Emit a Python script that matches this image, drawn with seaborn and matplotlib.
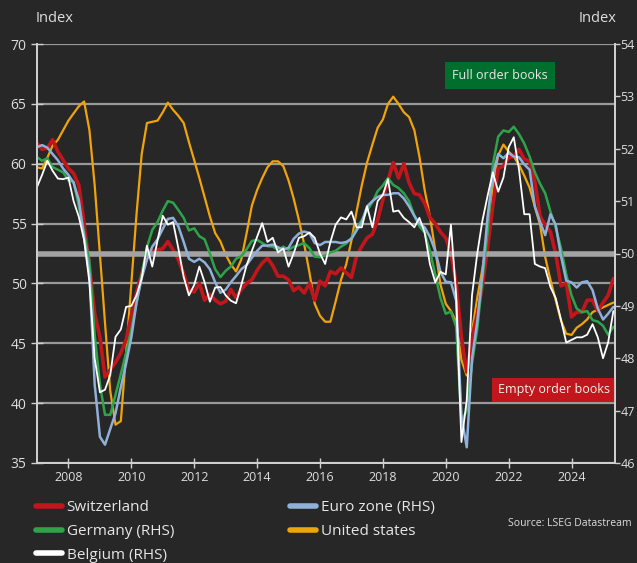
import numpy as np
import pandas as pd
import matplotlib
matplotlib.use("Agg")
import matplotlib.pyplot as plt
import matplotlib.dates as mdates
from matplotlib.lines import Line2D
import seaborn as sns

# ---------------- data (bi-monthly readings, Jan 2007 - May 2025) ----------------
switzerland = [
    61.7, 61.2, 61.3, 62.0, 61.0, 60.3, 59.6, 59.2, 58.2, 55.0, 51.5,
    47.5, 45.5, 42.2, 42.8, 43.4, 44.2, 45.3, 47.3, 49.2, 50.8,
    52.3, 52.7, 52.8, 52.9, 53.5, 52.8, 52.0, 50.8, 49.4, 49.3,
    50.0, 48.6, 49.1, 48.6, 48.3, 48.5, 49.5, 48.8, 49.5, 50.0,
    50.3, 51.1, 51.7, 52.1, 51.5, 50.6, 50.6, 50.3, 49.4, 49.7,
    49.2, 50.0, 48.6, 50.2, 49.8, 51.0, 50.8, 51.3, 50.9, 50.5,
    52.3, 53.1, 53.8, 54.1, 55.3, 57.0, 58.6, 60.1, 58.8, 60.0,
    58.4, 57.5, 57.4, 56.7, 55.5, 55.0, 54.3, 53.8, 52.6, 50.0,
    45.5, 42.6, 45.5, 47.4, 49.8, 53.0, 56.5, 59.6, 59.8, 60.5,
    60.6, 61.2, 60.4, 60.2, 58.5, 55.6, 54.9, 54.3, 52.5, 49.8,
    50.0, 47.2, 47.6, 47.6, 48.6, 48.6, 47.7, 48.4, 49.0, 50.4,
]
united_states = [
    59.7, 59.6, 60.5, 61.5, 62.0, 62.8, 63.6, 64.2, 64.8, 65.2, 62.8,
    58.2, 52.4, 46.7, 41.0, 38.2, 38.5, 44.2, 50.0, 55.7, 60.8,
    63.4, 63.5, 63.6, 64.3, 65.1, 64.5, 64.0, 63.4, 61.8, 60.3,
    58.8, 57.2, 55.6, 54.2, 53.5, 52.4, 51.6, 51.0, 52.0, 54.2,
    56.5, 57.8, 58.8, 59.7, 60.2, 60.2, 59.8, 58.6, 57.1, 55.3,
    53.3, 50.9, 48.3, 47.3, 46.8, 46.8, 48.5, 50.3, 51.6, 53.6,
    56.0, 58.2, 60.1, 61.6, 63.0, 63.7, 65.0, 65.6, 65.0, 64.3,
    63.9, 62.8, 60.6, 57.8, 55.6, 52.8, 49.9, 48.3, 47.7, 46.8,
    43.6, 42.3, 46.0, 48.8, 51.2, 54.0, 58.1, 60.7, 61.6, 61.0,
    60.6, 59.9, 59.0, 58.0, 56.4, 54.9, 52.2, 50.3, 48.6, 46.9,
    45.8, 45.7, 46.3, 46.6, 47.0, 47.6, 47.8, 48.0, 48.2, 48.4,
]
germany_rhs = [
    51.84, 51.77, 51.82, 51.65, 51.60, 51.55, 51.40, 51.37, 50.90, 50.40, 49.85,
    48.45, 47.50, 46.92, 46.92, 47.30, 47.70, 48.10, 48.55, 49.05, 49.60,
    50.12, 50.45, 50.60, 50.82, 51.00, 50.97, 50.83, 50.68, 50.44, 50.48,
    50.33, 50.27, 50.00, 49.70, 49.55, 49.67, 49.75, 49.90, 49.95, 50.08,
    50.24, 50.26, 50.20, 50.14, 50.13, 50.07, 50.13, 50.07, 50.13, 50.16,
    50.20, 50.10, 49.94, 49.93, 49.96, 50.02, 50.05, 50.13, 50.19, 50.30,
    50.48, 50.64, 50.82, 50.98, 51.19, 51.30, 51.44, 51.31, 51.25, 51.15,
    51.00, 50.72, 50.52, 50.40, 50.05, 49.60, 49.15, 48.85, 48.89, 48.60,
    46.80, 47.00, 47.90, 48.55, 49.50, 50.40, 51.70, 52.23, 52.35, 52.32,
    52.42, 52.28, 52.10, 51.85, 51.55, 51.33, 51.15, 50.80, 50.50, 50.10,
    49.60, 49.20, 48.95, 48.88, 48.90, 48.73, 48.70, 48.62, 48.45, 48.60,
]
belgium_rhs = [
    51.27, 51.50, 51.77, 51.58, 51.43, 51.42, 51.45, 51.00, 50.70, 50.26, 49.45,
    48.00, 47.35, 47.40, 47.68, 48.41, 48.55, 48.98, 49.00, 49.20, 49.52,
    50.15, 49.75, 50.25, 50.72, 50.55, 50.60, 50.10, 49.55, 49.20, 49.40,
    49.75, 49.45, 49.08, 49.35, 49.36, 49.20, 49.10, 49.05, 49.40, 49.78,
    50.05, 50.32, 50.58, 50.22, 50.30, 50.02, 50.10, 49.75, 50.00, 50.30,
    50.33, 50.40, 50.30, 50.00, 49.80, 50.22, 50.55, 50.69, 50.65, 50.80,
    50.50, 50.50, 50.90, 50.50, 51.00, 51.12, 51.42, 50.80, 50.82, 50.68,
    50.60, 50.50, 50.68, 50.40, 49.80, 49.45, 49.65, 49.60, 50.55, 49.20,
    46.40, 47.20, 49.20, 50.00, 50.62, 51.10, 51.55, 51.18, 51.45, 52.03,
    52.22, 51.60, 50.75, 50.75, 49.80, 49.75, 49.72, 49.36, 49.15, 48.73,
    48.30, 48.35, 48.40, 48.40, 48.45, 48.65, 48.40, 48.00, 48.30, 48.90,
]
euro_zone_rhs = [
    52.03, 52.07, 52.02, 51.90, 51.78, 51.62, 51.50, 51.35, 51.02, 50.30, 49.60,
    47.50, 46.50, 46.35, 46.65, 46.95, 47.45, 47.90, 48.40, 49.05, 49.53,
    49.88, 50.13, 50.27, 50.47, 50.66, 50.68, 50.52, 50.22, 49.90, 49.84,
    49.90, 49.83, 49.70, 49.45, 49.25, 49.31, 49.45, 49.57, 49.70, 49.78,
    49.92, 50.05, 50.15, 50.15, 50.17, 50.12, 50.07, 50.11, 50.28, 50.38,
    50.42, 50.39, 50.20, 50.16, 50.22, 50.22, 50.22, 50.20, 50.22, 50.28,
    50.44, 50.60, 50.90, 51.00, 51.08, 51.12, 51.12, 51.15, 51.15, 51.05,
    50.90, 50.72, 50.57, 50.50, 50.32, 50.05, 49.65, 49.46, 49.45, 49.10,
    46.90, 46.30, 48.00, 48.70, 49.60, 50.70, 51.50, 51.90, 51.82, 51.92,
    51.85, 51.84, 51.70, 51.60, 50.90, 50.60, 50.35, 50.75, 50.55, 49.95,
    49.48, 49.45, 49.35, 49.45, 49.47, 49.30, 48.95, 48.74, 48.85, 48.98,
]
left_ticks = [35, 40, 45, 50, 55, 60, 65, 70]
right_ticks = [46, 47, 48, 49, 50, 51, 52, 53, 54]

dates = pd.date_range("2007-01-01", periods=len(switzerland), freq="2MS")
df = pd.DataFrame({
    "date": dates,
    "Switzerland": switzerland,
    "United states": united_states,
    "Germany (RHS)": germany_rhs,
    "Belgium (RHS)": belgium_rhs,
    "Euro zone (RHS)": euro_zone_rhs,
})

# ---------------- style ----------------
sns.set_theme(style="dark")
plt.rcParams["font.family"] = ["Open Sans", "DejaVu Sans"]

BG = "#272727"
TXT = "#dedede"
GRID = "#9a9a9a"
SPINE = "#d0d0d0"
C_CH = "#c0161c"
C_DE = "#2ea44a"
C_BE = "#ffffff"
C_EZ = "#8fb0d8"
C_US = "#f0a30a"

fig = plt.figure(figsize=(6.37, 5.63), dpi=100, facecolor=BG)
ax = fig.add_axes([37 / 637, 1 - 463 / 563, 578 / 637, 419 / 563])
ax.set_facecolor(BG)
ax2 = ax.twinx()

# left axis series
sns.lineplot(data=df, x="date", y="United states", ax=ax, color=C_US, lw=1.6)
sns.lineplot(data=df, x="date", y="Switzerland", ax=ax, color=C_CH, lw=2.6)
# right axis series
ax2.axhline(50, color="#a3a3a3", lw=4, zorder=0.5)
sns.lineplot(data=df, x="date", y="Germany (RHS)", ax=ax2, color=C_DE, lw=1.8)
sns.lineplot(data=df, x="date", y="Euro zone (RHS)", ax=ax2, color=C_EZ, lw=1.8)
sns.lineplot(data=df, x="date", y="Belgium (RHS)", ax=ax2, color=C_BE, lw=1.3)

ax.set_ylim(35, 70)
ax.set_yticks(left_ticks)
ax2.set_ylim(46, 54)
ax2.set_yticks(right_ticks)
ax.set_xlim(pd.Timestamp("2007-01-01"), pd.Timestamp("2025-05-20"))
ax.xaxis.set_major_locator(mdates.YearLocator(2))
ax.xaxis.set_major_formatter(mdates.DateFormatter("%Y"))

for a in (ax, ax2):
    a.set_xlabel("")
    a.set_ylabel("")
    a.grid(False)
    a.spines["top"].set_visible(False)
    for s in ("left", "right", "bottom"):
        a.spines[s].set_visible(True)
        a.spines[s].set_color(SPINE)
        a.spines[s].set_linewidth(1.3)
ax.grid(axis="y", color=GRID, lw=1.6)
ax.set_axisbelow(True)

ax.tick_params(axis="y", left=True, direction="inout", length=9, width=1,
               color=SPINE, labelcolor=TXT, labelsize=10, pad=3)
ax.tick_params(axis="x", bottom=True, direction="inout", length=7, width=1,
               color=SPINE, labelcolor=TXT, labelsize=9, pad=2)
ax2.tick_params(axis="y", right=True, direction="out", length=3.5, width=1,
                color=SPINE, labelcolor=TXT, labelsize=9, pad=0.5)

# headers
fig.text(36 / 637, 1 - 18 / 563, "Index", color=TXT, fontsize=10.5, ha="left", va="center")
fig.text(616 / 637, 1 - 18 / 563, "Index", color=TXT, fontsize=10.5, ha="right", va="center")

# annotation boxes
ax.text(0.801, 0.924, "Full order books", transform=ax.transAxes, ha="center", va="center",
        color="#e8e8e8", fontsize=9,
        bbox=dict(boxstyle="square,pad=0.55", fc="#006f2e", ec="none"))
ax.text(0.894, 0.175, "Empty order books", transform=ax.transAxes, ha="center", va="center",
        color="#f0f0f0", fontsize=9,
        bbox=dict(boxstyle="square,pad=0.45", fc="#c0161c", ec="none"))

# legend
labels = ["Switzerland", "Germany (RHS)", "Belgium (RHS)", "Euro zone (RHS)", "United states"]
colors = [C_CH, C_DE, C_BE, C_EZ, C_US]
handles = [Line2D([], [], color=c, lw=4) for c in colors]
fig.legend(handles, labels, loc="upper left", bbox_to_anchor=(36 / 637, 1 - 500 / 563),
           ncol=2, frameon=False, fontsize=11, labelcolor="#e6e6e6",
           handlelength=1.7, handletextpad=0.3, labelspacing=0.58, columnspacing=7.6,
           borderaxespad=0, borderpad=0)

fig.text(632 / 637, 1 - 523 / 563, "Source: LSEG Datastream", color=TXT, fontsize=7.5,
         ha="right", va="center")

fig.savefig("out.png", dpi=100, facecolor=BG)
